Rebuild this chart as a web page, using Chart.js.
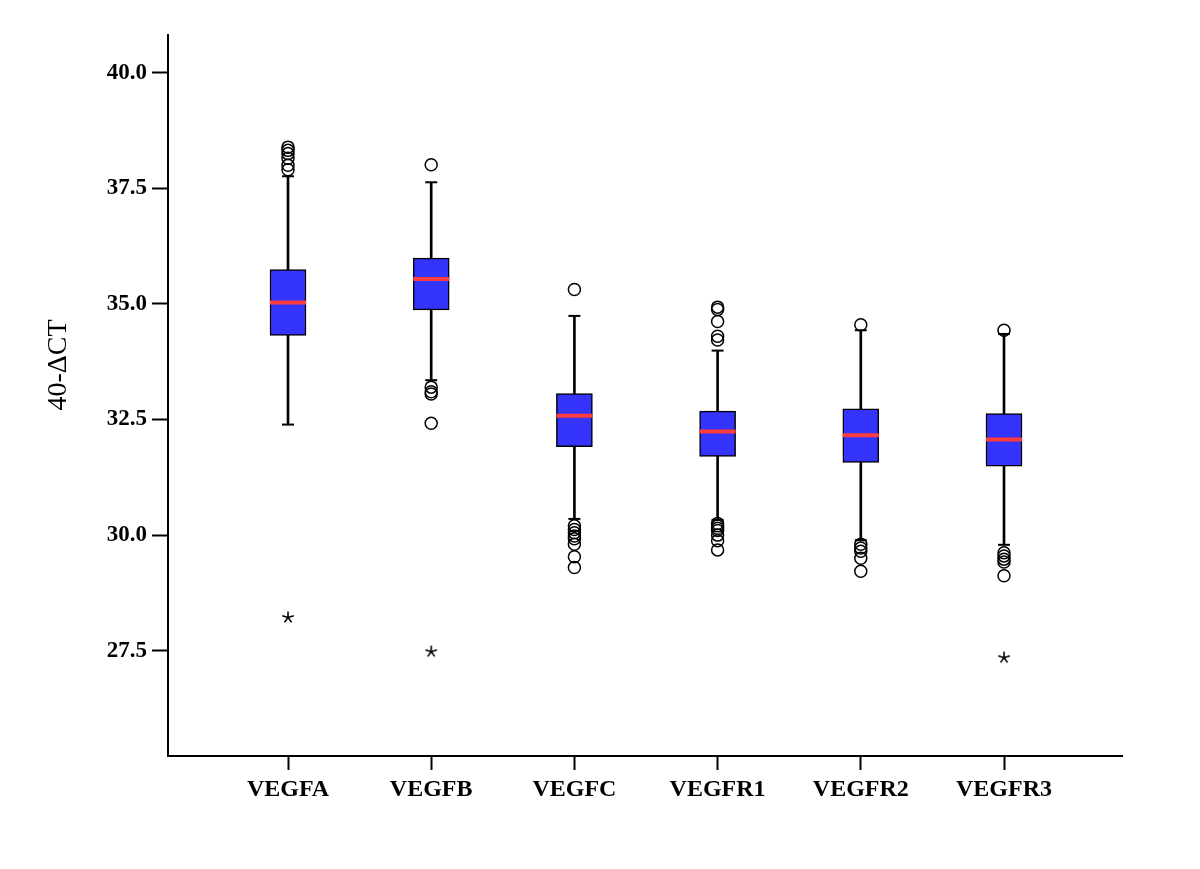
<!DOCTYPE html>
<html>
<head>
<meta charset="utf-8">
<script src="https://cdn.jsdelivr.net/npm/chart.js@4.4.1/dist/chart.umd.min.js"></script>
<style>
  html, body { margin: 0; padding: 0; background: #ffffff; }
  #wrap { width: 1200px; height: 869px; position: relative; }
</style>
</head>
<body>
<div id="wrap"><canvas id="c" width="1200" height="869"></canvas></div>
<script>
// ---- data ----
const categories = ['VEGFA', 'VEGFB', 'VEGFC', 'VEGFR1', 'VEGFR2', 'VEGFR3'];
const q1 = [34.32, 34.87, 31.91, 31.70, 31.57, 31.49];
const medians = [35.03, 35.54, 32.58, 32.24, 32.16, 32.07];
const q3 = [35.74, 35.99, 33.06, 32.68, 32.73, 32.63];
const whiskerLow = [32.39, 33.35, 30.35, 30.33, 29.89, 29.79];
const whiskerHigh = [37.76, 37.63, 34.74, 33.99, 34.43, 34.35];
const outliers = [
  [38.39, 38.32, 38.25, 38.15, 38.0, 37.9],
  [38.01, 33.2, 33.1, 33.05, 32.42],
  [35.31, 30.2, 30.12, 30.05, 29.98, 29.92, 29.8, 29.53, 29.3],
  [34.93, 34.88, 34.62, 34.3, 34.22, 30.25, 30.2, 30.15, 30.1, 30.0, 29.88, 29.68],
  [34.55, 29.8, 29.72, 29.65, 29.5, 29.22],
  [34.43, 29.62, 29.55, 29.48, 29.42, 29.12]
];
const extremes = [[28.23], [27.49], [], [], [], [27.36]];
const yTicks = [27.5, 30.0, 32.5, 35.0, 37.5, 40.0];
const yTitle = '40-\u0394CT';

// ---- build datasets ----
const boxData = categories.map((c, i) => ({ x: i, y: [q1[i], q3[i]] }));
const whiskerData = categories.map((c, i) => ({ x: i, y: [whiskerLow[i], whiskerHigh[i]] }));
const medianData = categories.map((c, i) => ({ x: i, y: medians[i] }));
const capData = [];
categories.forEach((c, i) => { capData.push({ x: i, y: whiskerLow[i] }); capData.push({ x: i, y: whiskerHigh[i] }); });
const outlierData = [];
outliers.forEach((arr, i) => arr.forEach(v => outlierData.push({ x: i, y: v })));
const extremeData = [];
extremes.forEach((arr, i) => arr.forEach(v => extremeData.push({ x: i, y: v })));

const serif = '"Liberation Serif", "DejaVu Serif", serif';

// five-armed asterisk marker
const starCanvas = document.createElement('canvas');
starCanvas.width = 14; starCanvas.height = 14;
(function () {
  const s = starCanvas.getContext('2d');
  s.strokeStyle = '#000'; s.lineWidth = 1.6; s.lineCap = 'butt';
  const cx = 7, cy = 7.5, r = 6;
  s.beginPath();
  for (let k = 0; k < 5; k++) {
    const a = -Math.PI / 2 + k * 2 * Math.PI / 5;
    s.moveTo(cx, cy);
    s.lineTo(cx + r * Math.cos(a), cy + r * Math.sin(a));
  }
  s.stroke();
})();

const yTitlePlugin = {
  id: 'yTitle',
  afterDraw(chart) {
    const ctx = chart.ctx;
    ctx.save();
    ctx.translate(59, 365);
    ctx.rotate(-Math.PI / 2);
    ctx.font = '28px ' + serif;
    ctx.fillStyle = '#000';
    ctx.textAlign = 'center';
    ctx.textBaseline = 'middle';
    ctx.fillText(yTitle, 0, 0);
    ctx.restore();
  }
};

new Chart(document.getElementById('c'), {
  type: 'bar',
  data: {
    datasets: [
      {
        type: 'scatter', label: 'median', data: medianData, order: 0,
        pointStyle: 'line', pointRadius: 18, pointHoverRadius: 18,
        borderColor: '#ff3b3b', borderWidth: 4, pointBorderWidth: 4, showLine: false
      },
      {
        type: 'bar', label: 'box', data: boxData, order: 1, grouped: false,
        backgroundColor: '#3434fc', borderColor: '#000000', borderWidth: 1.5,
        borderSkipped: false, barThickness: 36
      },
      {
        type: 'bar', label: 'whisker', data: whiskerData, order: 2, grouped: false,
        backgroundColor: '#000000', borderWidth: 0, barThickness: 2
      },
      {
        type: 'scatter', label: 'caps', data: capData, order: 3,
        pointStyle: 'line', pointRadius: 6, pointHoverRadius: 6,
        borderColor: '#000000', borderWidth: 2, pointBorderWidth: 2, showLine: false
      },
      {
        type: 'scatter', label: 'outliers', data: outlierData, order: 4,
        pointStyle: 'circle', pointRadius: 6, pointHoverRadius: 6,
        backgroundColor: 'rgba(0,0,0,0)', borderColor: '#000000', borderWidth: 1.5, showLine: false
      },
      {
        type: 'scatter', label: 'extremes', data: extremeData, order: 5,
        pointStyle: starCanvas, pointRadius: 7, pointHoverRadius: 7,
        backgroundColor: 'rgba(0,0,0,0)', borderColor: '#000000', borderWidth: 1.5, showLine: false
      }
    ]
  },
  options: {
    responsive: false,
    animation: false,
    layout: { padding: { top: 35, right: 78, left: 0, bottom: 0 } },
    plugins: { legend: { display: false }, tooltip: { enabled: false } },
    scales: {
      x: {
        type: 'linear',
        min: -0.838, max: 5.824,
        offset: false,
        afterBuildTicks(scale) { scale.ticks = categories.map((c, i) => ({ value: i })); },
        afterFit(scale) { scale.height = 113; },
        border: { display: true, color: '#000000', width: 2 },
        grid: { offset: false, drawOnChartArea: false, drawTicks: true, tickLength: 14, tickColor: '#000000', tickWidth: 2, color: '#000000' },
        ticks: {
          autoSkip: false, maxRotation: 0, padding: 5, color: '#000000',
          font: { family: serif, size: 24, weight: 'bold' },
          callback: (v) => categories[v]
        }
      },
      y: {
        type: 'linear',
        min: 25.223, max: 40.815,
        afterBuildTicks(scale) { scale.ticks = yTicks.map(v => ({ value: v })); },
        afterFit(scale) { scale.width = 168; },
        border: { display: true, color: '#000000', width: 2 },
        grid: { offset: false, drawOnChartArea: false, drawTicks: true, tickLength: 16, tickColor: '#000000', tickWidth: 2, color: '#000000' },
        ticks: {
          padding: 5, color: '#000000',
          font: { family: serif, size: 23, weight: 'bold' },
          callback: (v) => Number(v).toFixed(1)
        }
      }
    }
  },
  plugins: [yTitlePlugin]
});
</script>
</body>
</html>
